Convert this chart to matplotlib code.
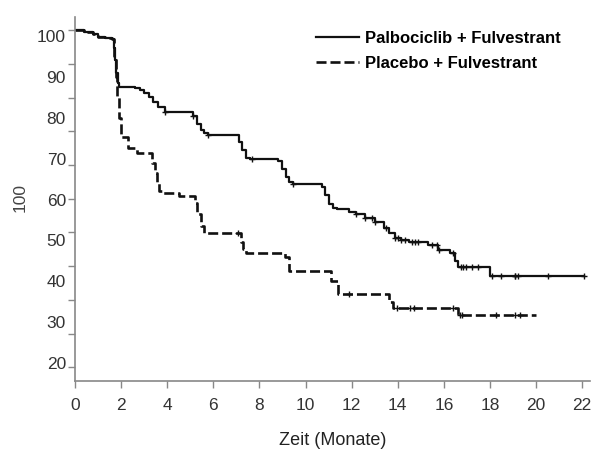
import numpy as np
import matplotlib
matplotlib.use('Agg')
from matplotlib import pyplot as plt

plt.rcParams['font.family'] = ['Liberation Sans', 'DejaVu Sans']

# Palbociclib + Fulvestrant (step curve: time in months, survival level)
palbo_t = [0, 0.4, 0.8, 1.0, 1.3, 1.6, 1.68, 1.74, 1.8, 1.86, 1.92, 2.6, 2.8, 3.0, 3.2, 3.4,
           3.6, 3.9, 5.1, 5.3, 5.45, 5.6, 5.75, 7.1, 7.25, 7.4, 7.6, 8.8, 9.0, 9.15, 9.3,
           9.45, 10.7, 10.85, 11.0, 11.2, 11.35, 11.9, 12.2, 12.6, 13.0, 13.4, 13.6, 13.9,
           14.15, 14.5, 15.3, 15.75, 16.25, 16.5, 16.6, 16.7, 18.0, 22.1]
palbo_s = [101.4, 100.9, 100.5, 99.8, 99.5, 99.2, 97.0, 94.0, 91.0, 88.5, 87.5, 87.2, 86.8,
           86.0, 85.0, 83.8, 82.5, 81.3, 80.4, 78.5, 77.0, 76.2, 75.7, 74.0, 72.0, 70.1,
           69.8, 69.3, 67.5, 65.5, 64.2, 63.8, 63.0, 61.0, 59.0, 58.0, 57.6, 57.0, 56.5,
           55.6, 54.4, 53.0, 51.7, 50.5, 50.0, 49.6, 48.8, 47.6, 46.9, 45.0, 43.4, 43.4,
           41.3, 41.3]
palbo_cens = [3.9, 5.1, 5.75, 7.7, 9.45, 12.2, 12.6, 12.9, 13.0, 13.5, 13.9, 14.0, 14.16,
              14.33, 14.6, 14.77, 14.9, 15.5, 15.7, 15.8, 16.4, 16.75, 16.83, 16.96, 17.2,
              17.5, 18.1, 18.5, 19.07, 19.1, 19.2, 20.5, 22.1]

# Placebo + Fulvestrant
plac_t = [0, 0.4, 0.8, 1.0, 1.3, 1.6, 1.68, 1.76, 1.84, 1.92, 2.0, 2.3, 2.7, 3.35, 3.45,
          3.55, 3.65, 3.8, 4.5, 5.2, 5.3, 5.45, 5.6, 7.2, 7.3, 7.4, 9.1, 9.3, 10.9, 11.1,
          11.4, 13.4, 13.6, 13.8, 16.3, 16.6, 20.0]
plac_s = [101.4, 100.9, 100.5, 99.8, 99.5, 99.2, 95.0, 90.0, 85.0, 80.0, 75.2, 72.5, 71.3,
          69.0, 66.5, 64.0, 62.0, 61.5, 60.8, 59.1, 56.5, 53.5, 51.7, 49.5, 48.0, 46.9,
          46.0, 42.5, 42.5, 40.0, 36.8, 36.8, 35.0, 33.4, 33.4, 31.7, 31.7]
plac_cens = [7.06, 11.9, 13.95, 14.55, 14.7, 16.4, 16.7, 16.8, 18.25, 19.1, 19.3]

ylabels = [100, 90, 80, 70, 60, 50, 40, 30, 20]
xticks = list(range(0, 23, 2))


def level_at(t, times, surv):
    i = np.searchsorted(times, t, side='right') - 1
    return surv[i]


fig = plt.figure(figsize=(5.95, 4.5), dpi=100)
ax = fig.add_axes([0.126, 0.153, 0.866, 0.809])

ax.plot(palbo_t, palbo_s, drawstyle='steps-post', color='#111111', lw=1.6,
        label='Palbociclib + Fulvestrant')
ax.plot(plac_t, plac_s, drawstyle='steps-post', color='#111111', lw=1.9,
        dashes=(3.8, 1.5), label='Placebo + Fulvestrant')

ax.plot(palbo_cens, [level_at(t, palbo_t, palbo_s) for t in palbo_cens], ls='none',
        marker='+', ms=5, mew=1.0, color='#111111')
ax.plot(plac_cens, [level_at(t, plac_t, plac_s) for t in plac_cens], ls='none',
        marker='+', ms=5, mew=1.0, color='#111111')

ax.set_xlim(0, 22.35)
ax.set_ylim(15.6, 104.6)

# labelled ticks (no marks) and unlabelled tick marks, as in the scanned original
ax.set_yticks(ylabels)
ax.set_yticklabels([str(v) for v in ylabels])
ax.set_yticks(101.4 - 8.24 * np.arange(11), minor=True)
ax.tick_params(axis='y', which='major', length=0, pad=6.5, labelsize=12.5, labelcolor='#333333')
ax.tick_params(axis='y', which='minor', length=5, width=1, color='#888888', direction='out')
ax.set_xticks(xticks)
ax.tick_params(axis='x', length=5, width=1, color='#888888', pad=7, labelsize=12.5,
               labelcolor='#333333')

for side in ['top', 'right']:
    ax.spines[side].set_visible(False)
for side in ['left', 'bottom']:
    ax.spines[side].set_color('#888888')
    ax.spines[side].set_linewidth(1.2)

ax.set_xlabel('Zeit (Monate)', fontsize=13, color='#222222', labelpad=14)
fig.text(20 / 595, 1 - 198 / 450, '100', rotation=90, fontsize=12.5, color='#444444',
         ha='center', va='center')

ax.legend(loc='upper left', bbox_to_anchor=(316 / 595, 1 - 31 / 450),
          bbox_transform=fig.transFigure, frameon=False, borderpad=0, borderaxespad=0,
          handlelength=2.6, handletextpad=0.35, labelspacing=0.62,
          prop={'weight': 'bold', 'size': 12})

fig.savefig('out.png', dpi=100)
